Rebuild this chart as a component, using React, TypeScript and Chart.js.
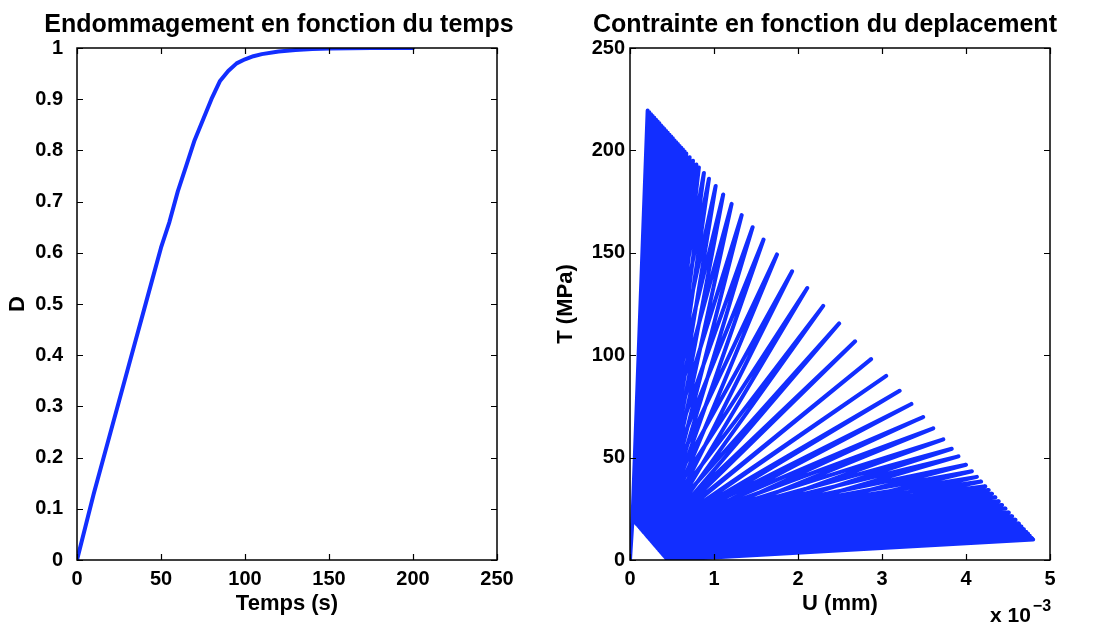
import React, { useEffect, useRef } from "react";
import { Chart, registerables } from "chart.js";

Chart.register(...registerables);

// ---------- Left chart data: damage D versus time ----------
const timeS = [0, 5, 10, 15, 20, 25, 30, 35, 40, 45, 50, 55, 60, 65, 70, 75, 80, 85, 90, 95, 100, 105, 110, 120, 130, 140, 150, 175, 200];
const damageD = [0, 0.065, 0.13, 0.19, 0.25, 0.31, 0.37, 0.43, 0.49, 0.55, 0.61, 0.66, 0.72, 0.77, 0.82, 0.86, 0.9, 0.935, 0.955, 0.97, 0.978, 0.984, 0.988, 0.993, 0.996, 0.998, 0.999, 1.0, 1.0];
const timeTicks = [0, 50, 100, 150, 200, 250];
const damageTicks = [0, 0.1, 0.2, 0.3, 0.4, 0.5, 0.6, 0.7, 0.8, 0.9, 1];

// ---------- Right chart data: stress T (MPa) versus displacement U (x1e-3 mm) ----------
// peak (tip) of each loading cycle
const tipU = [
  0.21, 0.23, 0.25, 0.27, 0.29, 0.31, 0.33, 0.35, 0.37, 0.39, 0.41, 0.43, 0.45, 0.47, 0.49, 0.51, 0.53, 0.55, 0.57, 0.59, 0.61, 0.63, 0.65,
  0.67, 0.71, 0.75, 0.79, 0.82, 0.88, 0.94, 1.02, 1.11, 1.21, 1.33, 1.46, 1.59, 1.75, 1.93, 2.11, 2.3, 2.49, 2.68, 2.87, 3.05, 3.21, 3.35, 3.49, 3.61, 3.73, 3.83, 3.91, 4.0, 4.07, 4.13, 4.18, 4.23, 4.27,
  4.31, 4.35, 4.39, 4.43, 4.47, 4.51, 4.55, 4.59, 4.63, 4.66, 4.69, 4.72, 4.74, 4.76, 4.78, 4.79, 4.8, 4.8, 4.8, 4.8,
];
const tipT = [
  219.5, 218.6, 217.7, 216.8, 215.9, 215.0, 214.1, 213.2, 212.2, 211.3, 210.4, 209.5, 208.6, 207.7, 206.8, 205.9, 204.9, 204.0, 203.1, 202.2, 201.3, 200.4, 199.5,
  198.5, 196.7, 194.9, 193.1, 191.7, 189.0, 186.2, 182.6, 178.5, 173.9, 168.4, 162.5, 156.5, 149.2, 141.0, 132.8, 124.1, 115.5, 106.8, 98.1, 89.9, 82.6, 76.2, 69.8, 64.3, 58.9, 54.3, 50.6, 46.5, 43.3, 40.6, 38.3, 36.0, 34.2,
  32.4, 30.6, 28.7, 26.9, 25.1, 23.2, 21.4, 19.6, 17.8, 16.4, 15.0, 13.7, 12.8, 11.8, 10.9, 10.5, 10.0, 10.0, 10.0, 10.0,
];
// start of each loading branch, on the lower-left edge of the fan
const baseU = [
  0.03, 0.032, 0.033, 0.035, 0.037, 0.038, 0.04, 0.042, 0.043, 0.045, 0.047, 0.048, 0.05, 0.052, 0.054, 0.055, 0.057, 0.059, 0.06, 0.062, 0.064, 0.065, 0.067,
  0.072, 0.08, 0.089, 0.097, 0.106, 0.114, 0.122, 0.131, 0.139, 0.148, 0.156, 0.164, 0.173, 0.181, 0.19, 0.198, 0.206, 0.215, 0.223, 0.232, 0.24, 0.248, 0.257, 0.265, 0.274, 0.282, 0.29, 0.299, 0.307, 0.316, 0.324, 0.332, 0.341, 0.349,
  0.358, 0.362, 0.366, 0.37, 0.374, 0.379, 0.383, 0.387, 0.391, 0.395, 0.4, 0.404, 0.408, 0.412, 0.416, 0.425, 0.433, 0.442, 0.446, 0.45,
];
const baseT = [
  20.0, 19.9, 19.8, 19.8, 19.7, 19.6, 19.5, 19.4, 19.4, 19.3, 19.2, 19.1, 19.0, 19.0, 18.9, 18.8, 18.7, 18.6, 18.6, 18.5, 18.4, 18.3, 18.2,
  18.0, 17.6, 17.2, 16.8, 16.4, 16.0, 15.6, 15.2, 14.8, 14.4, 14.0, 13.6, 13.2, 12.8, 12.4, 12.0, 11.6, 11.2, 10.8, 10.4, 10.0, 9.6, 9.2, 8.8, 8.4, 8.0, 7.6, 7.2, 6.8, 6.4, 6.0, 5.6, 5.2, 4.8,
  4.4, 4.2, 4.0, 3.8, 3.6, 3.4, 3.2, 3.0, 2.8, 2.6, 2.4, 2.2, 2.0, 1.8, 1.6, 1.2, 0.8, 0.4, 0.2, 0.0,
];
// end of each unloading branch (where the fan of loops converges)
const retU = [
  0.06, 0.07, 0.08, 0.09, 0.1, 0.11, 0.12, 0.13, 0.14, 0.15, 0.16, 0.17, 0.18, 0.19, 0.2, 0.21, 0.22, 0.23, 0.24, 0.25, 0.26, 0.27, 0.28,
  0.3, 0.31, 0.32, 0.33, 0.34, 0.35, 0.36, 0.37, 0.38, 0.39, 0.4, 0.41, 0.42, 0.43, 0.44, 0.45, 0.46, 0.47, 0.48, 0.49, 0.5, 0.51, 0.52, 0.53, 0.54, 0.55, 0.56, 0.57, 0.58, 0.59, 0.6, 0.61, 0.62,
  0.62, 0.61, 0.6, 0.59, 0.58, 0.57, 0.56, 0.55, 0.54, 0.53, 0.52, 0.51, 0.5, 0.49, 0.48, 0.47, 0.46, 0.46, 0.45, 0.45,
];
const retT = [
  20.0, 20.0, 20.0, 20.0, 20.0, 20.0, 20.0, 20.0, 20.0, 20.0, 20.0, 20.0, 20.0, 20.0, 20.0, 20.0, 20.0, 20.0, 20.0, 20.0, 20.0, 20.0, 20.0,
  20.0, 20.0, 19.9, 19.8, 19.7, 19.6, 19.5, 19.4, 19.3, 19.2, 19.1, 19.0, 18.9, 18.8, 18.7, 18.6, 18.5, 18.4, 18.3, 18.2, 18.1, 18.0, 17.9, 17.8, 17.7, 17.6, 17.5, 17.4, 17.3, 17.2, 17.1, 17.0, 16.9,
  16.0, 15.2, 14.4, 13.6, 12.8, 12.0, 11.2, 10.4, 9.6, 8.8, 8.0, 7.2, 6.4, 5.6, 4.8, 4.0, 3.0, 2.0, 1.0, 0.0,
];
const startU = [0];
const startT = [0];
const dispTicks = [0, 1, 2, 3, 4, 5];
const stressTicks = [0, 50, 100, 150, 200, 250];

const BLUE = "rgb(18,46,255)";
const FONT = "'Liberation Sans', Arial, Helvetica, sans-serif";

const matlabPlugin = {
  id: "matlabBox",
  afterDraw(chart: any, _args: any, opts: any) {
    const { ctx, chartArea: a, scales } = chart;
    ctx.save();
    ctx.strokeStyle = "#000";
    ctx.lineWidth = 1.5;
    ctx.strokeRect(a.left, a.top, a.right - a.left, a.bottom - a.top);
    const L = 6;
    ctx.lineWidth = 1.2;
    ctx.beginPath();
    scales.x.ticks.forEach((t: any) => {
      const px = Math.round(scales.x.getPixelForValue(t.value)) + 0.5;
      ctx.moveTo(px, a.bottom);
      ctx.lineTo(px, a.bottom - L);
      ctx.moveTo(px, a.top);
      ctx.lineTo(px, a.top + L);
    });
    scales.y.ticks.forEach((t: any) => {
      const py = Math.round(scales.y.getPixelForValue(t.value)) + 0.5;
      ctx.moveTo(a.left, py);
      ctx.lineTo(a.left + L, py);
      ctx.moveTo(a.right, py);
      ctx.lineTo(a.right - L, py);
    });
    ctx.stroke();
    // title
    ctx.fillStyle = "#000";
    ctx.font = `bold 25px ${FONT}`;
    ctx.textAlign = "center";
    ctx.textBaseline = "alphabetic";
    ctx.fillText(opts.title, (a.left + a.right) / 2 + (opts.titleDx || 0), 32);
    if (opts.exponent) {
      ctx.textAlign = "left";
      ctx.font = `bold 21px ${FONT}`;
      ctx.fillText("x 10", opts.exponent.x, opts.exponent.y);
      const w = ctx.measureText("x 10").width;
      ctx.font = `bold 16px ${FONT}`;
      ctx.fillText("\u22123", opts.exponent.x + w + 2, opts.exponent.y - 11);
    }
    ctx.restore();
  },
};

function makeConfig(p: {
  points: { x: number; y: number }[];
  lineWidth: number;
  xMin: number; xMax: number; yMin: number; yMax: number;
  xTicks: number[]; yTicks: number[];
  yFmt: (v: number) => string;
  xTitle: string; yTitle: string; title: string; titleDx: number;
  yWidth: number; rightPad: number; yPad: number;
  exponent?: { x: number; y: number };
}): any {
  return {
    type: "scatter",
    data: {
      datasets: [
        {
          data: p.points,
          showLine: true,
          borderColor: BLUE,
          backgroundColor: BLUE,
          borderWidth: p.lineWidth,
          pointRadius: 0,
          borderCapStyle: "round",
          borderJoinStyle: "round",
          tension: 0,
        },
      ],
    },
    options: {
      responsive: false,
      animation: false,
      layout: { padding: { top: 48, right: p.rightPad, left: 0, bottom: 0 } },
      plugins: {
        legend: { display: false },
        tooltip: { enabled: false },
        title: { display: false },
        matlabBox: { title: p.title, titleDx: p.titleDx, exponent: p.exponent },
      },
      scales: {
        x: {
          type: "linear",
          min: p.xMin,
          max: p.xMax,
          grid: { display: false, drawTicks: false },
          border: { display: false },
          afterBuildTicks: (s: any) => { s.ticks = p.xTicks.map((v) => ({ value: v })); },
          afterFit: (s: any) => { s.height = 67; },
          ticks: {
            padding: 7,
            color: "#000",
            maxRotation: 0,
            autoSkip: false,
            font: { family: FONT, size: 20, weight: "bold" },
            callback: (v: any) => String(v),
          },
          title: {
            display: true,
            text: p.xTitle,
            color: "#000",
            font: { family: FONT, size: 22, weight: "bold" },
            padding: { top: 0, bottom: 10 },
          },
        },
        y: {
          type: "linear",
          min: p.yMin,
          max: p.yMax,
          grid: { display: false, drawTicks: false },
          border: { display: false },
          afterBuildTicks: (s: any) => { s.ticks = p.yTicks.map((v) => ({ value: v })); },
          afterFit: (s: any) => { s.width = p.yWidth; },
          ticks: {
            padding: p.yPad,
            color: "#000",
            autoSkip: false,
            font: { family: FONT, size: 20, weight: "bold" },
            callback: (v: any) => p.yFmt(Number(v)),
          },
          title: {
            display: true,
            text: p.yTitle,
            color: "#000",
            font: { family: FONT, size: 22, weight: "bold" },
            padding: { top: 5, bottom: 0 },
          },
        },
      },
    },
    plugins: [matlabPlugin],
  };
}

function leftPoints() {
  return timeS.map((t, i) => ({ x: t, y: damageD[i] }));
}

function rightPoints() {
  const pts: { x: number; y: number }[] = [{ x: startU[0], y: startT[0] }];
  tipU.forEach((u, i) => {
    pts.push({ x: baseU[i], y: baseT[i] });
    pts.push({ x: u, y: tipT[i] });
    pts.push({ x: retU[i], y: retT[i] });
  });
  return pts;
}

function ChartCanvas({ build, left, width }: { build: () => any; left: number; width: number }) {
  const ref = useRef<HTMLCanvasElement>(null);
  useEffect(() => {
    const chart = new Chart(ref.current as HTMLCanvasElement, build());
    return () => chart.destroy();
  }, []);
  return (
    <canvas
      ref={ref}
      width={width}
      height={627}
      style={{ position: "absolute", left, top: 0, width, height: 627 }}
    />
  );
}

export default function App() {
  return (
    <div style={{ position: "fixed", left: 0, top: 0, width: 1095, height: 627, background: "#fff", overflow: "hidden" }}>
      <ChartCanvas
        left={0}
        width={548}
        build={() =>
          makeConfig({
            points: leftPoints(),
            lineWidth: 4,
            xMin: 0, xMax: 250, yMin: 0, yMax: 1,
            xTicks: timeTicks, yTicks: damageTicks,
            yFmt: (v) => (v === 0 || v === 1 ? String(v) : v.toFixed(1)),
            xTitle: "Temps (s)", yTitle: "D",
            title: "Endommagement en fonction du temps", titleDx: -8,
            yWidth: 77, rightPad: 51, yPad: 14,
          })
        }
      />
      <ChartCanvas
        left={548}
        width={547}
        build={() =>
          makeConfig({
            points: rightPoints(),
            lineWidth: 4,
            xMin: 0, xMax: 5, yMin: 0, yMax: 250,
            xTicks: dispTicks, yTicks: stressTicks,
            yFmt: (v) => String(v),
            xTitle: "U (mm)", yTitle: "T (MPa)",
            title: "Contrainte en fonction du deplacement", titleDx: -15,
            yWidth: 82, rightPad: 45, yPad: 5,
            exponent: { x: 442, y: 622 },
          })
        }
      />
    </div>
  );
}
